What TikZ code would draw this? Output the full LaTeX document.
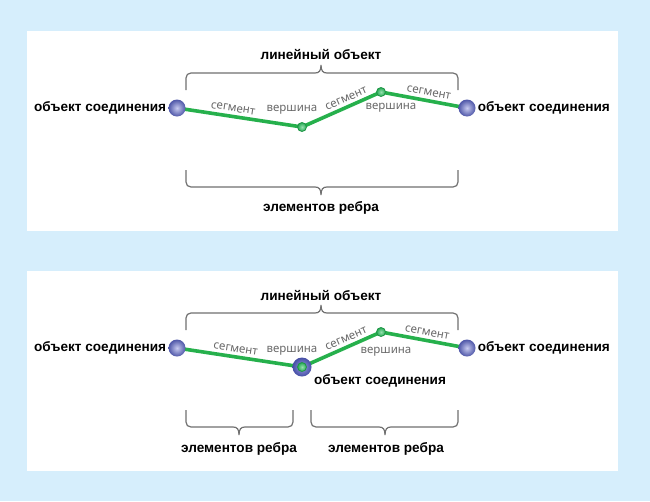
\documentclass[tikz,border=0pt]{standalone}
\usepackage{fontspec}
\setmainfont{Noto Sans}
\newfontfamily\boldlab{Liberation Sans}[UprightFont=* Bold]
\usetikzlibrary{backgrounds}
\definecolor{bgblue}{RGB}{214,238,252}
\definecolor{edgegreen}{RGB}{38,176,76}
\definecolor{bracegray}{RGB}{112,112,112}
\definecolor{labgray}{RGB}{105,105,105}
\newcommand{\braceup}[4]{%
\draw[bracestyle] (#1,#3+17) -- (#1,#3+5) .. controls (#1,#3+2) and (#1+2,#3) .. (#1+5,#3) -- (#4-6,#3) .. controls (#4-2,#3) and (#4,#3-2) .. (#4,#3-8) .. controls (#4,#3-2) and (#4+2,#3) .. (#4+6,#3) -- (#2-5,#3) .. controls (#2-2,#3) and (#2,#3+2) .. (#2,#3+5) -- (#2,#3+17);}
\newcommand{\bracedown}[4]{%
\draw[bracestyle] (#1,#3-17) -- (#1,#3-5) .. controls (#1,#3-2) and (#1+2,#3) .. (#1+5,#3) -- (#4-6,#3) .. controls (#4-2,#3) and (#4,#3+2) .. (#4,#3+8) .. controls (#4,#3+2) and (#4+2,#3) .. (#4+6,#3) -- (#2-5,#3) .. controls (#2-2,#3) and (#2,#3-2) .. (#2,#3-5) -- (#2,#3-17);}
\begin{document}
\begin{tikzpicture}[x=1pt,y=-1pt,
  jn/.style={circle,inner sep=0pt,minimum size=17pt,inner color={rgb,255:red,200;green,203;blue,240},outer color={rgb,255:red,78;green,86;blue,168}},
  jnring/.style={circle,inner sep=0pt,minimum size=19pt,inner color={rgb,255:red,150;green,155;blue,225},outer color={rgb,255:red,70;green,78;blue,165}},
  vx/.style={circle,inner sep=0pt,minimum size=9pt,draw={rgb,255:red,30;green,150;blue,70},line width=0.8pt,inner color={rgb,255:red,150;green,225;blue,175},outer color={rgb,255:red,40;green,170;blue,85}},
  edge/.style={draw=edgegreen,line width=3.6pt},
  bracestyle/.style={draw=bracegray,line width=1.2pt},
  lbl/.style={font=\boldlab\fontsize{13.6}{15}\selectfont,text=black,inner sep=0pt},
  seg/.style={font=\fontsize{11.5}{14}\selectfont,text=labgray,sloped,above=3pt,inner sep=0pt},
  vlab/.style={font=\fontsize{11.5}{14}\selectfont,text=labgray,inner sep=0pt}]
\useasboundingbox (0,0) rectangle (650,501);
\begin{scope}[on background layer]
\fill[bgblue] (0,0) rectangle (650,501);
\fill[white] (27,31) rectangle (618,231);
\fill[white] (27,271) rectangle (618,471);
\end{scope}
% panel 1
\node[jn] (a1) at (177,108) {};
\node[vx] (b1) at (302,127) {};
\node[vx] (c1) at (381,92) {};
\node[jn] (d1) at (467,108) {};
\begin{scope}[on background layer]
\draw[edge] (a1.center) -- node[seg,pos=.44]{сегмент} (b1.center) -- node[seg,pos=.6]{сегмент} (c1.center) -- node[seg,pos=.54]{сегмент} (d1.center);
\end{scope}
\node[vlab] (vb1) at (292,110) {вершина};
\node[vlab] (vc1) at (391,108) {вершина};
\node[lbl,anchor=east] (la1) at ([xshift=-2pt]a1.west) {объект соединения};
\node[lbl,anchor=west] (ld1) at ([xshift=2pt]d1.east) {объект соединения};
\braceup{186}{458}{73}{321}
\bracedown{186}{458}{187}{321}
\node[lbl] (top1) at (321,55) {линейный объект};
\node[lbl] (bot1) at (321,208) {элементов ребра};
% panel 2
\node[jn] (a2) at (177,348) {};
\node[jnring] (b2) at (302,367) {};
\node[vx] (b2g) at (302,367) {};
\node[vx] (c2) at (381,332) {};
\node[jn] (d2) at (467,348) {};
\begin{scope}[on background layer]
\draw[edge] (a2.center) -- node[seg,pos=.46]{сегмент} (b2.center) -- node[seg,pos=.6]{сегмент} (c2.center) -- node[seg,pos=.52]{сегмент} (d2.center);
\end{scope}
\node[vlab] (vb2) at (292,351) {вершина};
\node[vlab] (vc2) at (386,352) {вершина};
\node[lbl,anchor=east] (la2) at ([xshift=-2pt]a2.west) {объект соединения};
\node[lbl,anchor=west] (ld2) at ([xshift=2pt]d2.east) {объект соединения};
\node[lbl] (lb2) at (380,381) {объект соединения};
\braceup{186}{458}{313}{321}
\bracedown{186}{293}{427}{239}
\bracedown{311}{458}{427}{385}
\node[lbl] (top2) at (321,295) {линейный объект};
\node[lbl] (bot2a) at (239,449) {элементов ребра};
\node[lbl] (bot2b) at (386,449) {элементов ребра};
\end{tikzpicture}
\end{document}
